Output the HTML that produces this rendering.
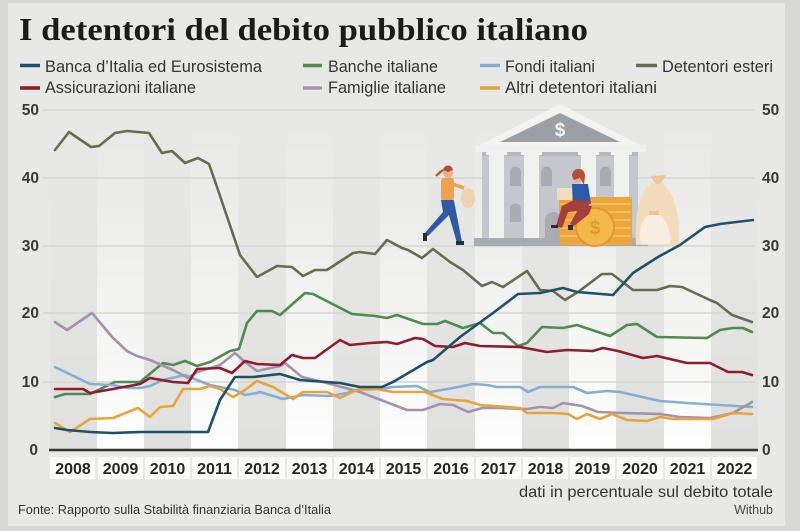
<!DOCTYPE html>
<html><head><meta charset="utf-8"><style>
html,body{margin:0;padding:0;background:#d6d6d4;}
svg{display:block;}
</style></head><body>
<svg width="800" height="531" viewBox="0 0 800 531" xmlns="http://www.w3.org/2000/svg">
<defs>
<linearGradient id="wb" x1="0" y1="120" x2="0" y2="452" gradientUnits="userSpaceOnUse">
<stop offset="0" stop-color="#ffffff" stop-opacity="0"/>
<stop offset="0.45" stop-color="#ffffff" stop-opacity="0.35"/>
<stop offset="1" stop-color="#ffffff" stop-opacity="0.95"/>
</linearGradient>
<linearGradient id="gb" x1="0" y1="150" x2="0" y2="452" gradientUnits="userSpaceOnUse">
<stop offset="0" stop-color="#000000" stop-opacity="0"/>
<stop offset="1" stop-color="#000000" stop-opacity="0.035"/>
</linearGradient>
</defs>
<rect x="0" y="0" width="800" height="531" fill="#d8d8d6"/>
<rect x="8" y="3" width="777" height="523" fill="#e8e8e6"/>
<!-- bands -->
<g fill="url(#wb)">
<rect x="97" y="100" width="47" height="350"/>
<rect x="191" y="100" width="47" height="350"/>
<rect x="286" y="100" width="47" height="350"/>
<rect x="380" y="100" width="47" height="350"/>
<rect x="475" y="100" width="47" height="350"/>
<rect x="569" y="100" width="47" height="350"/>
<rect x="664" y="100" width="47" height="350"/>
</g>
<g fill="url(#gb)">
<rect x="50" y="100" width="47" height="350"/>
<rect x="144" y="100" width="47" height="350"/>
<rect x="238" y="100" width="48" height="350"/>
<rect x="333" y="100" width="47" height="350"/>
<rect x="427" y="100" width="48" height="350"/>
<rect x="522" y="100" width="47" height="350"/>
<rect x="616" y="100" width="48" height="350"/>
<rect x="711" y="100" width="47" height="350"/>
</g>
<!-- gridlines -->
<g stroke="#d6d6d3" stroke-width="1.5">
<line x1="43" y1="110" x2="755" y2="110"/>
<line x1="43" y1="178" x2="755" y2="178"/>
<line x1="43" y1="246" x2="755" y2="246"/>
<line x1="43" y1="313" x2="755" y2="313"/>
<line x1="43" y1="382" x2="755" y2="382"/>
</g>
<!-- title -->
<text x="19" y="40" font-family="Liberation Serif, serif" font-weight="bold" font-size="32" fill="#1b1b1b" textLength="569" lengthAdjust="spacingAndGlyphs">I detentori del debito pubblico italiano</text>
<!-- legend -->
<g stroke-width="3.5">
<line x1="20" y1="65.5" x2="40" y2="65.5" stroke="#1e5166"/>
<line x1="303" y1="65.5" x2="322" y2="65.5" stroke="#4f8a50"/>
<line x1="480" y1="65.5" x2="500" y2="65.5" stroke="#85aed3"/>
<line x1="636" y1="65.5" x2="657" y2="65.5" stroke="#686b52"/>
<line x1="20" y1="88" x2="40" y2="88" stroke="#8e1b2e"/>
<line x1="303" y1="88" x2="322" y2="88" stroke="#a293aa"/>
<line x1="480" y1="88" x2="500" y2="88" stroke="#e6a53c"/>
</g>
<g font-family="Liberation Sans, sans-serif" font-size="16.5" fill="#333">
<text x="45" y="72" textLength="217" lengthAdjust="spacingAndGlyphs">Banca d’Italia ed Eurosistema</text>
<text x="328" y="72" textLength="110" lengthAdjust="spacingAndGlyphs">Banche italiane</text>
<text x="505" y="72" textLength="90" lengthAdjust="spacingAndGlyphs">Fondi italiani</text>
<text x="662" y="72" textLength="111" lengthAdjust="spacingAndGlyphs">Detentori esteri</text>
<text x="45" y="93" textLength="151" lengthAdjust="spacingAndGlyphs">Assicurazioni italiane</text>
<text x="328" y="93" textLength="118" lengthAdjust="spacingAndGlyphs">Famiglie italiane</text>
<text x="505" y="93" textLength="152" lengthAdjust="spacingAndGlyphs">Altri detentori italiani</text>
</g>
<!-- y labels -->
<g font-family="Liberation Sans, sans-serif" font-weight="bold" font-size="15.5" fill="#383838">
<text x="39" y="115" text-anchor="end">50</text>
<text x="39" y="183" text-anchor="end">40</text>
<text x="39" y="251" text-anchor="end">30</text>
<text x="39" y="318" text-anchor="end">20</text>
<text x="39" y="387" text-anchor="end">10</text>
<text x="38" y="455" text-anchor="end">0</text>
<text x="762" y="115">50</text>
<text x="762" y="183">40</text>
<text x="762" y="251">30</text>
<text x="762" y="318">20</text>
<text x="762" y="387">10</text>
<text x="762" y="455">0</text>
</g>
<!-- illustration -->
<g>
<polygon points="474,148 560,104 646,148" fill="#f3f3f1"/>
<polygon points="500,142 560,113 620,142" fill="#9ca0a5"/>
<text x="560" y="136" text-anchor="middle" font-family="Liberation Sans, sans-serif" font-weight="bold" font-size="19" fill="#f4f4f2">$</text>
<rect x="476" y="145" width="170" height="7" fill="#f0f0ee"/>
<rect x="482" y="152" width="156" height="87" fill="#c4c7cb"/>
<rect x="482" y="152" width="156" height="4" fill="#b5b9be"/>
<g fill="#f1f1ef">
<rect x="486" y="150" width="21" height="5"/><rect x="489" y="154" width="15" height="85"/>
<rect x="521" y="150" width="21" height="5"/><rect x="524" y="154" width="15" height="85"/>
<rect x="578" y="150" width="21" height="5"/><rect x="581" y="154" width="15" height="85"/>
<rect x="611" y="150" width="21" height="5"/><rect x="614" y="154" width="15" height="85"/>
</g>
<g fill="#a9adb2">
<path d="M510,186 V172 a5,5 0 0 1 11,0 V186 Z"/>
<path d="M541,186 V172 a5,5 0 0 1 11,0 V186 Z"/>
<path d="M600,186 V172 a5,5 0 0 1 11,0 V186 Z"/>
<path d="M510,222 V209 a5,5 0 0 1 11,0 V222 Z"/>
<path d="M545,239 V220 a8,8 0 0 1 16,0 V239 Z"/>
</g>
<rect x="474" y="238" width="174" height="8" fill="#a9adb1"/>
<!-- coins -->
<rect x="559" y="197" width="73" height="48" rx="2" fill="#eba53a"/>
<g stroke="#f5c563" stroke-width="1.5">
<line x1="560" y1="204" x2="631" y2="204"/>
<line x1="560" y1="212" x2="631" y2="212"/>
<line x1="560" y1="220" x2="631" y2="220"/>
<line x1="560" y1="228" x2="631" y2="228"/>
<line x1="560" y1="236" x2="631" y2="236"/>
</g>
<circle cx="595" cy="227" r="19" fill="#f3b74a" stroke="#e09a2c" stroke-width="2"/>
<text x="595" y="234" text-anchor="middle" font-family="Liberation Sans, sans-serif" font-weight="bold" font-size="19" fill="#e09a2c">$</text>
<!-- bags -->
<path d="M652,183 C640,190 634,215 636,245 L679,245 C681,215 673,190 662,183 Z" fill="#f4dbbb"/>
<path d="M650,176 L656,184 L660,184 L666,175 Z" fill="#edc596"/>
<path d="M648,215 C640,222 638,235 641,244 L670,244 C672,235 668,222 660,215 Z" fill="#f7ede0"/>
<rect x="649" y="211" width="10" height="4" fill="#edc596"/>
<!-- running woman -->
<circle cx="448" cy="173" r="5" fill="#e8b08c"/>
<path d="M443,170 C444,164 452,164 453,170 L448,172 Z" fill="#b44e35"/>
<path d="M443,170 L436,176 L440,172 Z" fill="#b44e35" stroke="#b44e35" stroke-width="2"/>
<rect x="441" y="178" width="13" height="23" rx="3" fill="#f0a04e"/>
<line x1="452" y1="184" x2="464" y2="188" stroke="#f0a04e" stroke-width="3.5"/>
<ellipse cx="468" cy="198" rx="7" ry="10" fill="#f1d2ae"/>
<path d="M441,200 L454,200 L452,212 L428,236 L424,234 L443,212 Z" fill="#2f5aa3"/>
<path d="M446,205 L454,201 L462,242 L457,243 Z" fill="#2f5aa3"/>
<rect x="423" y="233" width="4" height="8" fill="#2b2b33"/>
<rect x="456" y="241" width="8" height="4" fill="#2b2b33"/>
<!-- sitting woman -->
<circle cx="578" cy="177" r="5.5" fill="#e8b08c"/>
<path d="M572,176 C572,167 585,166 585,176 L584,185 L580,178 L574,180 Z" fill="#b44e35"/>
<path d="M572,184 L588,184 L591,204 L573,204 Z" fill="#2c5aa8"/>
<rect x="557" y="188" width="15" height="12" rx="1" fill="#f3dcc6"/>
<path d="M574,200 L590,201 L588,210 L568,212 L562,228 L556,226 L562,206 Z" fill="#a43f3a"/>
<path d="M580,206 L592,206 L589,214 L574,226 L570,224 Z" fill="#a43f3a"/>
<rect x="551" y="225" width="7" height="3" fill="#2b2b33"/>
<rect x="568" y="225" width="5" height="5" fill="#2b2b33"/>
</g>
<!-- series -->
<g fill="none" stroke-width="2.6" stroke-linejoin="round" stroke-linecap="round">
<polyline stroke="#686b52" points="55,150 69,132 91,147 99,146 115,133 127,131 149,133 162,153 172,151 185,163 198,158 209,164 217,187 240,255 257,277 277,266 292,267 303,276 315,270 327,270 353,253 360,252 375,254 387,240 402,248 408,250 422,258 433,249 450,262 463,270 482,286 492,282 503,287 527,271 540,290 553,291 565,300 578,292 602,274 612,274 633,290 657,290 670,286 682,287 710,300 717,303 732,315 752,322"/>
<polyline stroke="#4f8a50" points="55,397 65,394 90,394 115,382 140,382 163,363 173,365 185,361 197,366 210,362 230,351 239,349 247,323 257,311 272,311 280,315 305,293 313,294 352,314 375,316 387,318 397,315 423,324 437,324 445,321 463,328 480,323 493,333 503,333 518,346 527,343 542,327 563,328 577,325 610,336 627,325 637,324 657,337 707,338 720,330 733,328 743,328 752,332"/>
<polyline stroke="#85aed3" points="55,367 90,384 113,385 127,388 140,388 150,386 163,380 185,375 197,380 210,385 220,387 235,390 245,395 257,393 260,392 283,399 303,395 330,396 347,393 360,389 380,389 393,387 417,386 430,392 453,388 473,384 487,385 497,387 520,387 528,392 540,387 573,387 587,393 607,391 620,392 660,401 687,403 752,407"/>
<polyline stroke="#a293aa" points="55,322 67,330 92,313 113,338 127,351 137,356 150,360 173,370 188,378 197,372 220,365 235,353 245,362 257,371 280,366 285,363 302,377 327,383 360,392 407,410 423,410 440,404 453,405 468,412 482,408 500,408 527,409 540,407 553,408 563,403 582,406 598,412 623,413 660,414 680,417 710,418 733,413 752,402"/>
<polyline stroke="#e6a53c" points="55,423 70,432 90,419 113,418 138,408 150,417 160,407 173,406 183,389 200,389 210,386 220,389 233,397 245,390 257,381 273,387 293,399 303,392 327,392 340,398 357,390 377,389 393,392 425,392 443,399 467,401 480,405 520,408 527,413 553,413 568,414 577,419 587,414 600,419 612,414 627,420 647,421 660,417 673,419 713,419 733,413 752,414"/>
<polyline stroke="#8e1b2e" points="55,389 83,389 90,393 113,389 140,384 150,378 173,382 188,383 197,369 220,368 232,373 245,361 257,364 280,365 292,355 303,358 315,358 340,340 350,345 370,343 387,342 397,344 415,338 423,339 435,346 453,347 465,343 480,346 520,347 547,352 567,350 593,351 603,348 618,351 643,358 657,356 687,363 710,363 728,372 742,372 752,375"/>
<polyline stroke="#1e5166" points="55,428 67,430 90,432 113,433 140,432 208,432 220,400 235,377 253,377 280,374 300,380 340,383 360,387 382,387 393,382 427,362 433,360 460,337 493,313 518,294 540,293 563,288 577,292 613,295 633,273 658,257 680,245 705,227 720,224 753,220"/>
</g>
<!-- axis -->
<line x1="49" y1="450" x2="758" y2="450" stroke="#333" stroke-width="2.5"/>
<!-- year labels -->
<g fill="#fbfbfa">
<rect x="50" y="457" width="45" height="22"/>
<rect x="98" y="457" width="45" height="22"/>
<rect x="145" y="457" width="45" height="22"/>
<rect x="192" y="457" width="45" height="22"/>
<rect x="239" y="457" width="46" height="22"/>
<rect x="287" y="457" width="45" height="22"/>
<rect x="334" y="457" width="45" height="22"/>
<rect x="381" y="457" width="45" height="22"/>
<rect x="428" y="457" width="46" height="22"/>
<rect x="476" y="457" width="45" height="22"/>
<rect x="523" y="457" width="45" height="22"/>
<rect x="570" y="457" width="45" height="22"/>
<rect x="617" y="457" width="46" height="22"/>
<rect x="665" y="457" width="45" height="22"/>
<rect x="712" y="457" width="45" height="22"/>
</g>
<g font-family="Liberation Sans, sans-serif" font-weight="bold" font-size="16" fill="#262626" text-anchor="middle">
<text x="73" y="474">2008</text>
<text x="120.5" y="474">2009</text>
<text x="167.5" y="474">2010</text>
<text x="214.5" y="474">2011</text>
<text x="262" y="474">2012</text>
<text x="309.5" y="474">2013</text>
<text x="356.5" y="474">2014</text>
<text x="403.5" y="474">2015</text>
<text x="451" y="474">2016</text>
<text x="498.5" y="474">2017</text>
<text x="545.5" y="474">2018</text>
<text x="592.5" y="474">2019</text>
<text x="640" y="474">2020</text>
<text x="687.5" y="474">2021</text>
<text x="734.5" y="474">2022</text>
</g>
<!-- footer -->
<text x="18" y="514" font-family="Liberation Sans, sans-serif" font-size="13" fill="#333" textLength="313" lengthAdjust="spacingAndGlyphs">Fonte: Rapporto sulla Stabilità finanziaria Banca d’Italia</text>
<text x="773" y="497" text-anchor="end" font-family="Liberation Sans, sans-serif" font-size="16" fill="#333" textLength="254" lengthAdjust="spacingAndGlyphs">dati in percentuale sul debito totale</text>
<text x="773" y="514" text-anchor="end" font-family="Liberation Sans, sans-serif" font-size="12.5" fill="#444">Withub</text>
</svg>
</body></html>
